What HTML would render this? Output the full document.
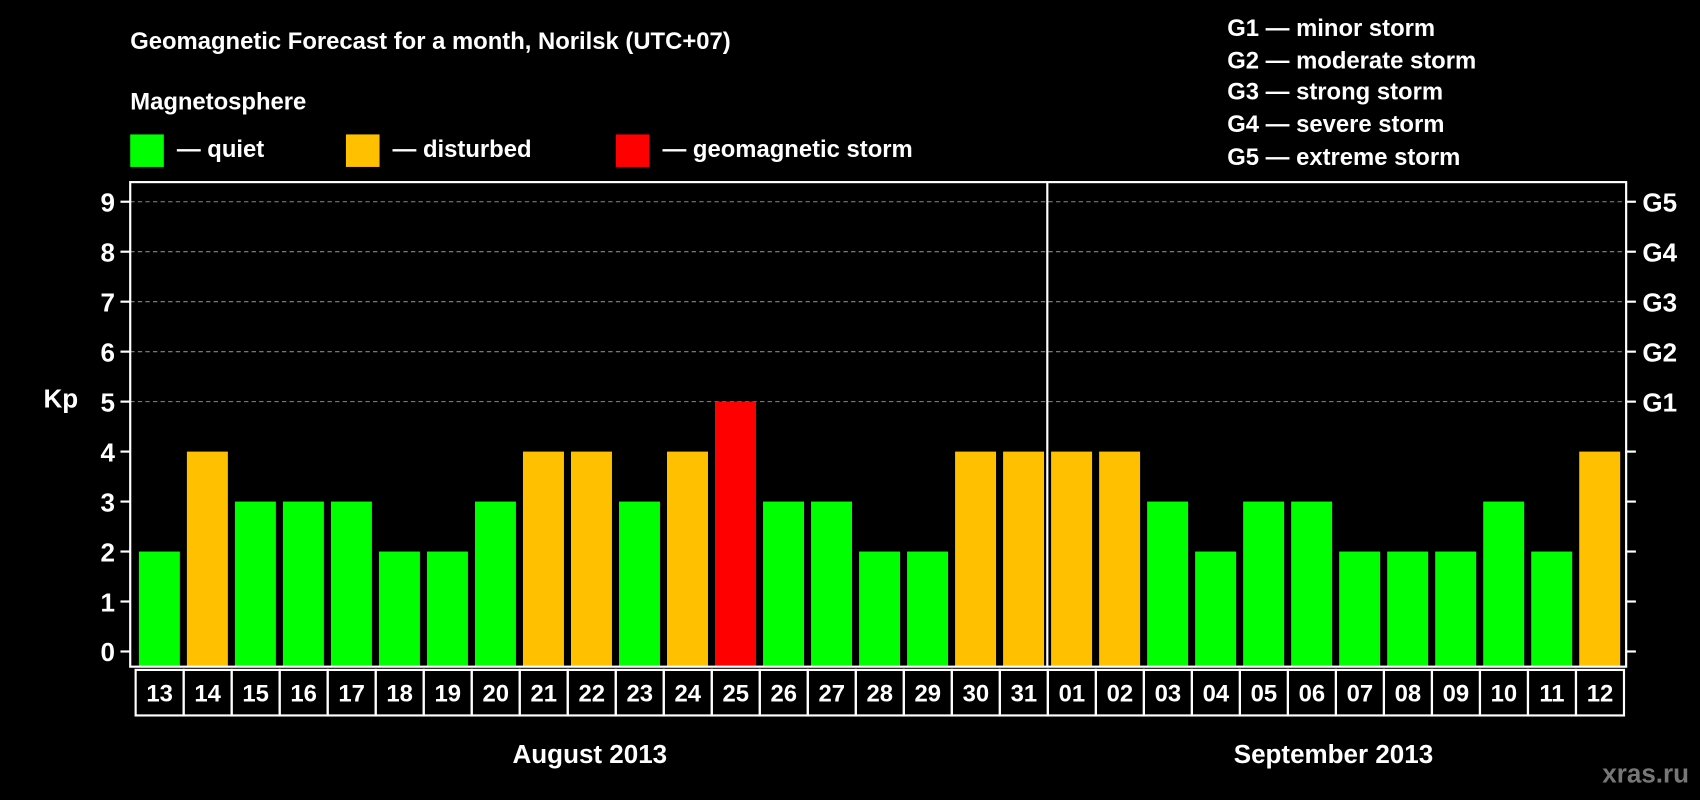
<!DOCTYPE html>
<html><head><meta charset="utf-8"><style>
html,body{margin:0;padding:0;background:#000;}
svg{display:block;font-family:"Liberation Sans",Arial,sans-serif;font-weight:bold;}
</style></head><body>
<svg id="chart" width="1700" height="800" viewBox="0 0 1568 738" xmlns="http://www.w3.org/2000/svg">
<rect width="1568" height="738" fill="#000"/>
<text x="120" y="45" fill="#fff" font-size="22">Geomagnetic Forecast for a month, Norilsk (UTC+07)</text>
<text x="120" y="101" fill="#fff" font-size="22">Magnetosphere</text>
<g><rect x="120" y="124" width="31" height="30" fill="#00ff00"/><text x="163" y="145" fill="#fff" font-size="22">— quiet</text></g>
<g><rect x="319" y="124" width="31" height="30" fill="#ffc000"/><text x="362" y="145" fill="#fff" font-size="22">— disturbed</text></g>
<g><rect x="568" y="124" width="31" height="30" fill="#ff0000"/><text x="611" y="145" fill="#fff" font-size="22">— geomagnetic storm</text></g>
<g fill="#fff" font-size="22">
<text x="1132" y="33">G1 — minor storm</text>
<text x="1132" y="63">G2 — moderate storm</text>
<text x="1132" y="92">G3 — strong storm</text>
<text x="1132" y="122">G4 — severe storm</text>
<text x="1132" y="152">G5 — extreme storm</text>
</g>
<text x="40" y="376" fill="#fff" font-size="24">Kp</text>
<g id="grid"></g>
<g id="bars"></g>
<g id="axes"></g>
<text x="544" y="704" fill="#fff" font-size="24" text-anchor="middle">August 2013</text>
<text x="1230" y="704" fill="#fff" font-size="24" text-anchor="middle">September 2013</text>
<text x="1558" y="722" fill="#777" font-size="24" text-anchor="end">xras.ru</text>
</svg>
<script>
const days = ["13","14","15","16","17","18","19","20","21","22","23","24","25","26","27","28","29","30","31","01","02","03","04","05","06","07","08","09","10","11","12"];
const kpValues = [2,4,3,3,3,2,2,3,4,4,3,4,5,3,3,2,2,4,4,4,4,3,2,3,3,2,2,2,3,2,4];
const yTicks = [0,1,2,3,4,5,6,7,8,9];
const gLabels = ["","","","","","G1","G2","G3","G4","G5"];
const monthSplitIndex = 19;

const NS="http://www.w3.org/2000/svg";
const L=120,R=1500,T=168,B=615,slotL=124,slotR=1497;
const slot=(slotR-slotL)/days.length;
const y=v=>601-v*46.1;
const x=i=>slotL+i*slot;
function mk(tag,attrs,parent){const e=document.createElementNS(NS,tag);for(const k in attrs)e.setAttribute(k,attrs[k]);parent.appendChild(e);return e;}
const grid=document.getElementById('grid'),bars=document.getElementById('bars'),axes=document.getElementById('axes');
yTicks.forEach((t,i)=>{
  if(t>=5){const g=mk('line',{x1:L,x2:R,y1:y(t),y2:y(t),stroke:'#888','stroke-dasharray':'4,3','stroke-width':1},grid);
    
    }
  const tl=mk('line',{x1:L-9,x2:L,y1:y(t),y2:y(t),stroke:'#fff','stroke-width':2},axes);
  
  
  const tr=mk('line',{x1:R,x2:R+9,y1:y(t),y2:y(t),stroke:'#fff','stroke-width':2},axes);
  
  
  const lab=mk('text',{x:L-14,y:y(t)+9,fill:'#fff','font-size':24,'text-anchor':'end'},axes);
  lab.textContent=t;
  
  
  if(gLabels[i]){const gl=mk('text',{x:R+15,y:y(t)+9,fill:'#fff','font-size':24},axes);
    gl.textContent=gLabels[i];
    
    }
});
kpValues.forEach((v,i)=>{
  const col=v>=5?'#ff0000':(v>=4?'#ffc000':'#00ff00');
  const r=mk('rect',{x:x(i)+4,y:y(v),width:slot-6.5,height:B-y(v),fill:col},bars);
  
  
  const bx=mk('rect',{x:x(i)+1,y:618,width:slot,height:42,fill:'none',stroke:'#fff','stroke-width':2},axes);
  
  
  const dl=mk('text',{x:x(i)+1+slot/2,y:647,fill:'#fff','font-size':22,'text-anchor':'middle'},axes);
  dl.textContent=days[i];
  
  
});
const frame=mk('rect',{x:L,y:T,width:R-L,height:B-T,fill:'none',stroke:'#fff','stroke-width':2},axes);


const div=mk('line',{x1:x(monthSplitIndex)+0.5,x2:x(monthSplitIndex)+0.5,y1:T,y2:B,stroke:'#fff','stroke-width':2},axes);


</script>
</body></html>
